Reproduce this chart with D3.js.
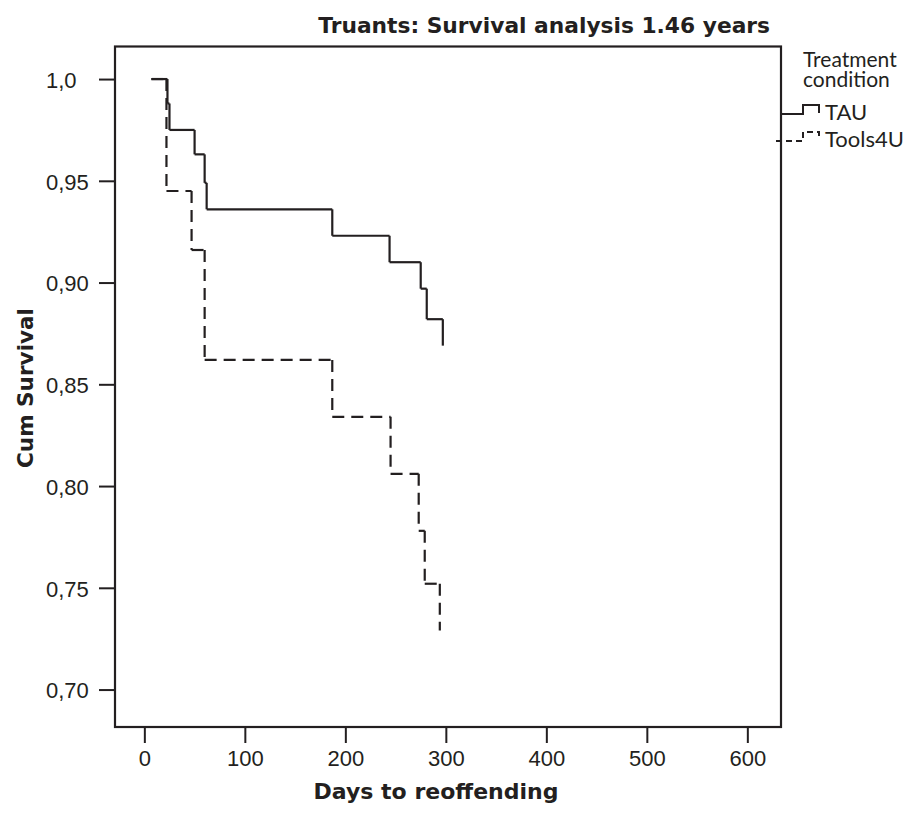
<!DOCTYPE html>
<html>
<head>
<meta charset="utf-8">
<script src="https://cdn.jsdelivr.net/npm/d3@7"></script>
<style>
  body { margin: 0; background: #fff; }
  svg { display: block; font-family: Lato, "Open Sans", sans-serif; }
  .bold-title { font-family: "DejaVu Sans", sans-serif; font-weight: bold; }
</style>
</head>
<body>
<svg id="chart"></svg>
<script>
// --------------------
// Data
// --------------------
const startDay = 7;

// TAU: event days and survival after each event
const tauDays = [23, 25, 50, 60, 62, 187, 244, 275, 281, 297];
const tauSurv = [0.988, 0.975, 0.963, 0.949, 0.936, 0.923, 0.910, 0.897, 0.882, 0.869];

// Tools4U
const toolsDays = [22, 47, 60, 187, 245, 273, 279, 294];
const toolsSurv = [0.945, 0.916, 0.862, 0.834, 0.806, 0.778, 0.752, 0.729];

const xTicks = [0, 100, 200, 300, 400, 500, 600];
const yTicks = [1.0, 0.95, 0.90, 0.85, 0.80, 0.75, 0.70];
const yTickLabels = ["1,0", "0,95", "0,90", "0,85", "0,80", "0,75", "0,70"];

const seriesNames = ["TAU", "Tools4U"];
const legendTitle = ["Treatment", "condition"];

// --------------------
// Basic setup
// --------------------
const width = 915;
const height = 818;
const frame = { left: 115, right: 781, top: 46.5, bottom: 727 };

const svg = d3.select("#chart")
  .attr("width", width)
  .attr("height", height);

const x = d3.scaleLinear()
  .domain([-29.2, 633.5])
  .range([frame.left, frame.right]);

const y = d3.scaleLinear()
  .domain([0.6816, 1.016])
  .range([frame.bottom, frame.top]);

// --------------------
// Axes
// --------------------
const xAxis = svg.append("g")
  .attr("transform", `translate(0,${frame.bottom})`)
  .call(d3.axisBottom(x).tickValues(xTicks).tickSize(16).tickSizeOuter(0).tickPadding(7));

xAxis.select(".domain").remove();
xAxis.selectAll(".tick line").attr("stroke", "#231f20").attr("stroke-width", 2);
xAxis.selectAll(".tick text")
  .attr("fill", "#231f20")
  .style("font-size", "22px");

const yAxis = svg.append("g")
  .attr("transform", `translate(${frame.left},0)`)
  .call(d3.axisLeft(y).tickValues(yTicks).tickSize(16).tickSizeOuter(0)
    .tickFormat((d, i) => yTickLabels[i]));

yAxis.select(".domain").remove();
yAxis.selectAll(".tick line").attr("stroke", "#231f20").attr("stroke-width", 2);
yAxis.selectAll(".tick text")
  .attr("fill", "#231f20")
  .attr("text-anchor", "start")
  .attr("x", 46 - frame.left)
  .attr("dy", "0.38em")
  .style("font-size", "22px");

// frame
svg.append("rect")
  .attr("x", frame.left)
  .attr("y", frame.top)
  .attr("width", frame.right - frame.left)
  .attr("height", frame.bottom - frame.top)
  .attr("fill", "none")
  .attr("stroke", "#231f20")
  .attr("stroke-width", 2.2);

// --------------------
// Step curves (each segment drawn on its own so dashes restart at corners)
// --------------------
function stepSegments(days, surv) {
  const segs = [];
  let t0 = startDay, s0 = 1;
  days.forEach((t, i) => {
    segs.push([[t0, s0], [t, s0]]);
    segs.push([[t, s0], [t, surv[i]]]);
    t0 = t; s0 = surv[i];
  });
  return segs;
}

const line = d3.line().x(d => x(d[0])).y(d => y(d[1]));

const curves = [
  { name: seriesNames[1], segs: stepSegments(toolsDays, toolsSurv), dash: "12,7" },
  { name: seriesNames[0], segs: stepSegments(tauDays, tauSurv), dash: null }
];

curves.forEach(c => {
  svg.append("g")
    .selectAll("path")
    .data(c.segs)
    .join("path")
      .attr("d", line)
      .attr("fill", "none")
      .attr("stroke", "#231f20")
      .attr("stroke-width", 2.2)
      .attr("stroke-dasharray", c.dash);
});

// --------------------
// Titles (font size nudged so the text spans the same width as the original)
// --------------------
function fitWidth(sel, target) {
  const w = sel.node().getComputedTextLength();
  const fs = parseFloat(sel.style("font-size"));
  sel.style("font-size", (fs * target / w).toFixed(2) + "px");
}

const title = svg.append("text")
  .attr("class", "bold-title")
  .attr("x", 770)
  .attr("y", 33)
  .attr("text-anchor", "end")
  .attr("fill", "#231f20")
  .style("font-size", "20px")
  .text("Truants: Survival analysis 1.46 years");
fitWidth(title, 452);

const xTitle = svg.append("text")
  .attr("class", "bold-title")
  .attr("x", 436)
  .attr("y", 799)
  .attr("text-anchor", "middle")
  .attr("fill", "#231f20")
  .style("font-size", "20px")
  .text("Days to reoffending");
fitWidth(xTitle, 245);

const yTitle = svg.append("text")
  .attr("class", "bold-title")
  .attr("transform", "translate(33,388) rotate(-90)")
  .attr("text-anchor", "middle")
  .attr("fill", "#231f20")
  .style("font-size", "20px")
  .text("Cum Survival");
fitWidth(yTitle, 160);

// --------------------
// Legend
// --------------------
const legend = svg.append("g");

// two-line heading kept in one text element
legend.append("text")
  .attr("fill", "#231f20")
  .style("font-size", "21px")
  .selectAll("tspan")
  .data(legendTitle)
  .join("tspan")
    .attr("x", 803)
    .attr("y", (d, i) => 67 + i * 20)
    .text(d => d);

const legendRows = [
  { name: seriesNames[0], base: 120, dash: null, left: 781 },
  { name: seriesNames[1], base: 147, dash: "6,4", left: 776 }
];

legendRows.forEach(r => {
  const yLow = r.base - 6, yHigh = r.base - 15;
  legend.append("path")
    .attr("d", `M${r.left},${yLow}H803V${yHigh}H819V${yLow - 1}`)
    .attr("fill", "none")
    .attr("stroke", "#231f20")
    .attr("stroke-width", 2)
    .attr("stroke-dasharray", r.dash);
  legend.append("text")
    .attr("x", 825)
    .attr("y", r.base)
    .attr("fill", "#231f20")
    .style("font-size", "22px")
    .text(r.name);
});
</script>
</body>
</html>
